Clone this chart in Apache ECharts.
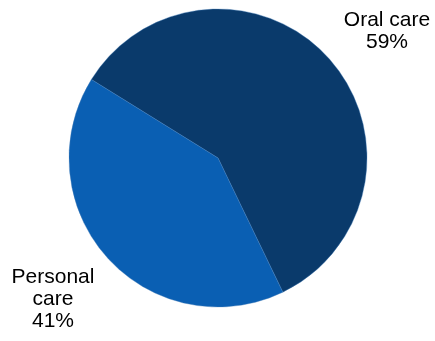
<!DOCTYPE html>
<html>
<head>
<meta charset="utf-8">
<script src="https://cdn.jsdelivr.net/npm/echarts@6/dist/echarts.min.js"></script>
<style>
  html, body { margin: 0; padding: 0; background: #fff; }
  #chart { width: 435px; height: 341px; }
</style>
</head>
<body>
<div id="chart"></div>
<script>
// slice names and shares (%)
var categories = ['Oral care', 'Personal care'];
var labelText = ['Oral care\n59%', 'Personal\ncare\n41%'];
var shares = [59, 41];
var colors = ['#0a3a6b', '#0a5fb3'];

// where each label sits (block centre)
var labelPos = [[387, 31], [53, 299]];

var chart = echarts.init(document.getElementById('chart'));

var data = [];
for (var i = 0; i < categories.length; i++) {
  data.push({
    name: categories[i],
    value: shares[i],
    itemStyle: { color: colors[i] },
    label: { formatter: labelText[i] }
  });
}

chart.setOption({
  animation: false,
  series: [{
    type: 'pie',
    center: [218, 158],
    radius: 149,
    startAngle: 148.2,
    clockwise: true,
    itemStyle: { borderColor: '#3f78b5', borderWidth: 0.4 },
    label: {
      show: true,
      position: 'inside',
      color: '#000',
      fontFamily: 'Liberation Sans, Arial, sans-serif',
      fontSize: 21,
      lineHeight: 22,
      align: 'center',
      overflow: 'none'
    },
    labelLine: { show: false },
    labelLayout: function (p) {
      return {
        x: labelPos[p.dataIndex][0],
        y: labelPos[p.dataIndex][1],
        align: 'center',
        verticalAlign: 'middle'
      };
    },
    data: data
  }]
});
</script>
</body>
</html>
